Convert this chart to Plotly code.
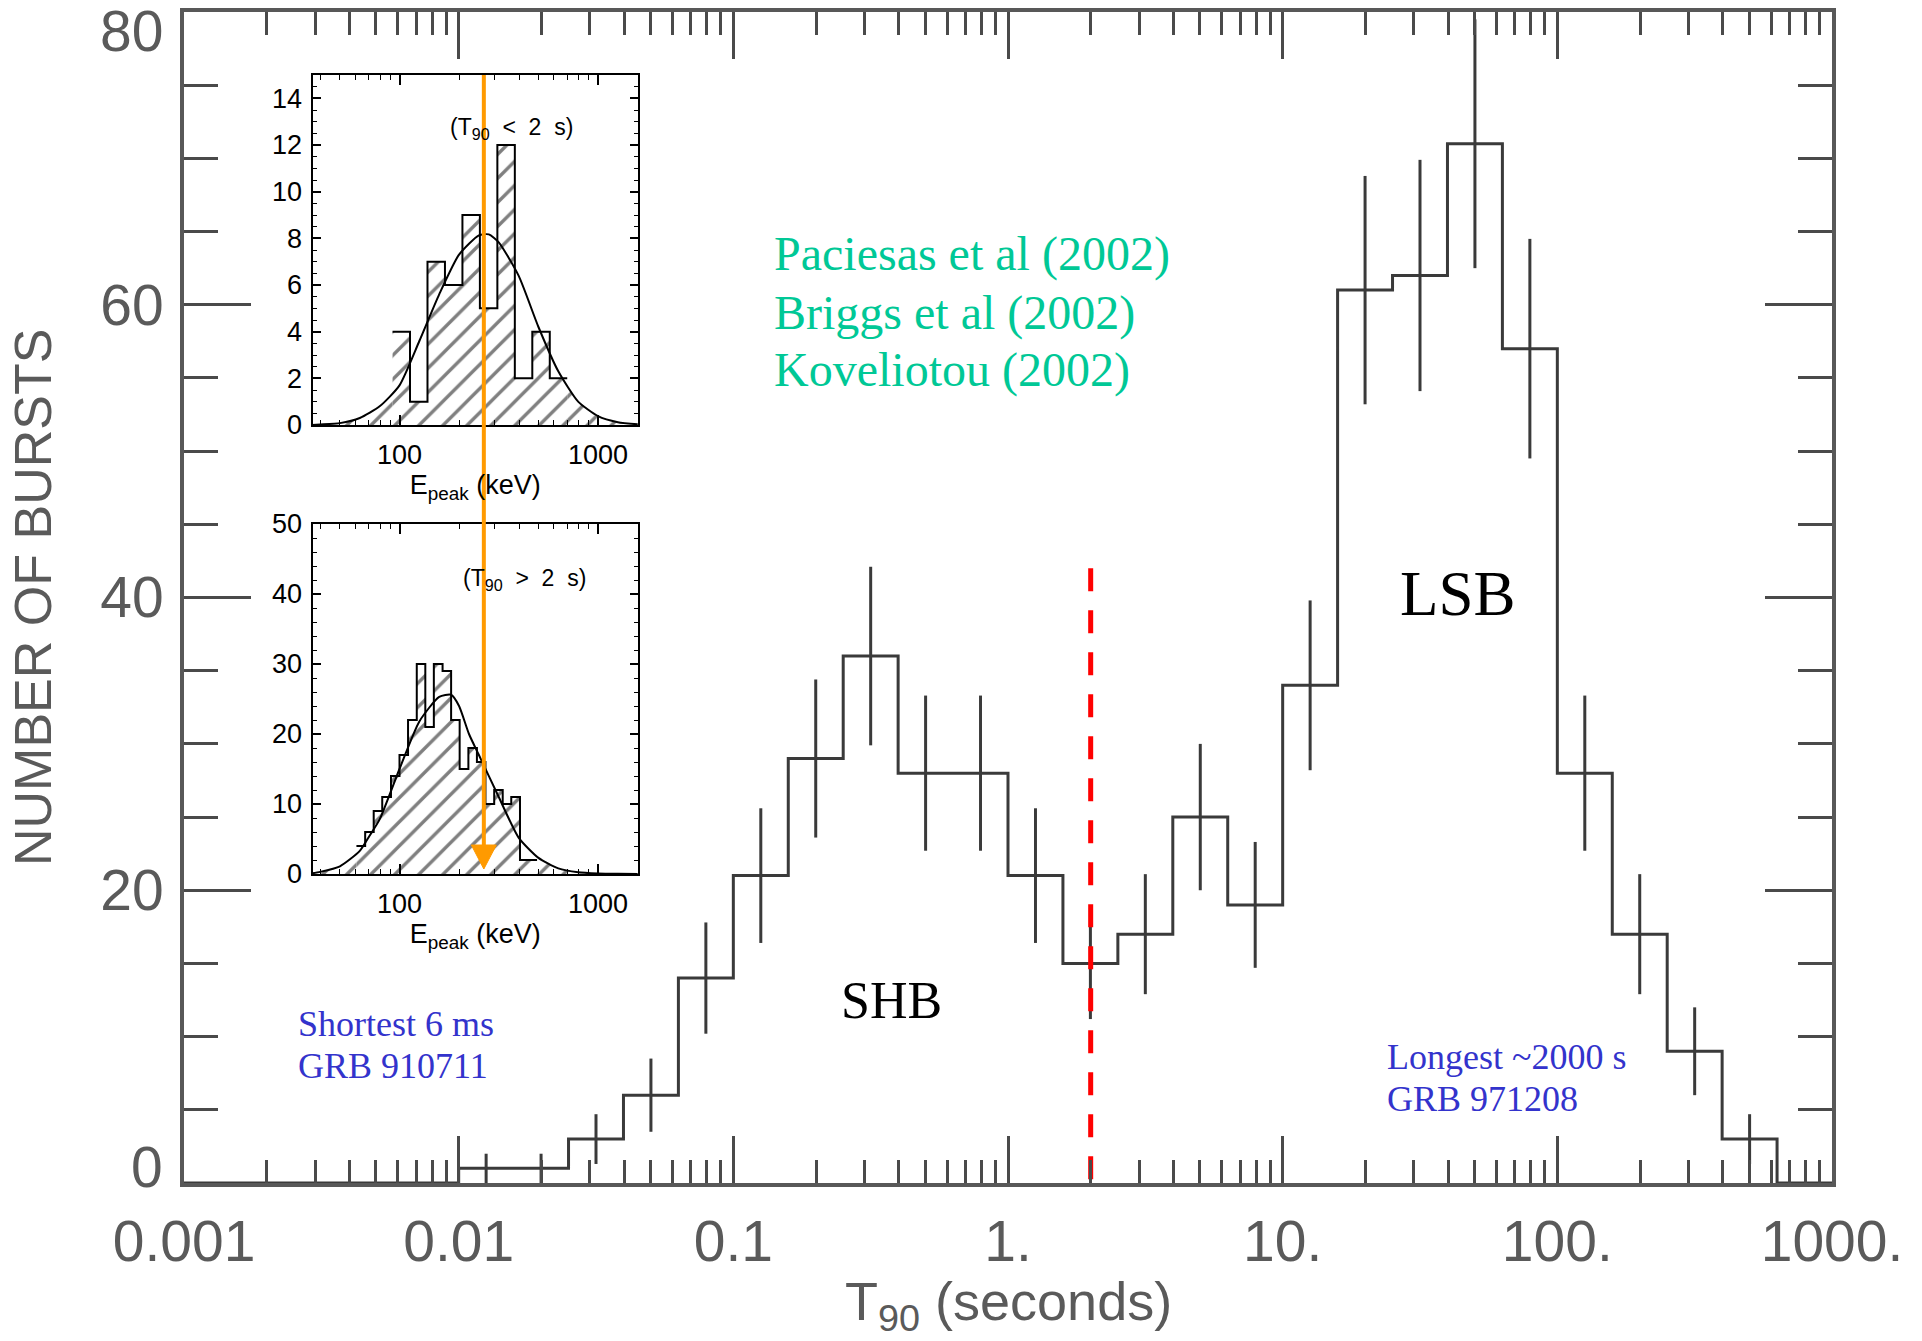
import numpy as np
import plotly.graph_objects as go

# ---------------- data ----------------
# main histogram: log10(T90) bin edges, counts and error bars
t90_log_edges = [-2.0, -1.8, -1.6, -1.4, -1.2, -1.0, -0.8, -0.6, -0.4, -0.2, 0.0,
                 0.2, 0.4, 0.6, 0.8, 1.0, 1.2, 1.4, 1.6, 1.8, 2.0, 2.2, 2.4, 2.6, 2.8]
burst_counts = [1, 1, 3, 6, 14, 21, 29, 36, 28, 28, 21, 15, 17, 25, 19, 34,
                61, 62, 71, 57, 28, 17, 9, 3]
burst_errors = [1.0, 1.0, 1.7, 2.5, 3.8, 4.6, 5.4, 6.1, 5.3, 5.3, 4.6, 3.8, 4.1, 5.0,
                4.3, 5.8, 7.8, 7.9, 8.5, 7.5, 5.3, 4.1, 3.0, 1.7]
split_t90 = 2.0          # seconds (red dashed line)
split_top = 42           # top of the red dashed line

x_tick_vals = [0.001, 0.01, 0.1, 1, 10, 100, 1000]
x_tick_text = ["0.001", "0.01", "0.1", "1.", "10.", "100.", "1000."]
y_tick_vals = [20, 40, 60]
y_tick_text = ["20", "40", "60"]
y_edge_vals = [0, 80]
y_edge_text = ["0", "80"]

# inset 1: Epeak histogram for T90 < 2 s
short_log_edges = [1.965, 2.053, 2.141, 2.229, 2.317, 2.405, 2.493, 2.581, 2.669, 2.757, 2.845]
short_counts = [4, 1, 7, 6, 9, 5, 12, 2, 4, 2]
short_fit_log = [1.56, 1.6, 1.7, 1.8, 1.9, 2.0, 2.1, 2.2, 2.3, 2.4, 2.45, 2.5, 2.6, 2.7, 2.8,
                 2.9, 3.0, 3.1, 3.2]
short_fit_val = [0.0, 0.02, 0.08, 0.3, 0.8, 1.7, 3.6, 5.6, 7.3, 8.13, 8.17, 7.83, 6.4, 4.2,
                 2.3, 1.0, 0.38, 0.12, 0.03]

# inset 2: Epeak histogram for T90 > 2 s
long_log_edges = [1.783, 1.827, 1.870, 1.913, 1.957, 2.000, 2.043, 2.087, 2.130, 2.173, 2.217,
                  2.260, 2.303, 2.347, 2.390, 2.433, 2.477, 2.520, 2.563, 2.607, 2.650, 2.693]
long_counts = [4, 6, 9, 11, 14, 17, 22, 30, 21, 30, 29, 22, 15, 18, 16, 10, 12, 10, 11, 2, 2]
long_fit_log = [1.56, 1.6, 1.7, 1.8, 1.85, 1.9, 2.0, 2.1, 2.2, 2.26, 2.3, 2.35, 2.4, 2.5, 2.6,
                2.7, 2.8, 2.9, 3.0, 3.1, 3.2]
long_fit_val = [0.1, 0.3, 1.1, 3.3, 5.5, 7.8, 15.0, 21.8, 25.3, 25.6, 24.0, 20.0, 17.0, 11.0,
                5.2, 2.3, 0.8, 0.25, 0.08, 0.02, 0.0]
arrow_epeak = 266        # keV, orange arrow

# ---------------- geometry helpers ----------------
W, H = 1922, 1341
def pxx(v):
    return v / W
def pyy(v):
    return 1 - v / H

main_xdom = [pxx(184), pxx(1832)]
main_ydom = [pyy(1183), pyy(12)]
in_xdom = [pxx(312.5), pxx(638)]
in1_ydom = [pyy(425), pyy(75)]
in2_ydom = [pyy(874), pyy(524)]
in_xrange = [1.5617, 3.2015]

AX_GRAY = "#585858"
TXT_GRAY = "#5a5a5a"
HIST_COL = "#3a3a3a"
SANS = "Liberation Sans"
SERIF = "Liberation Serif"

fig = go.Figure()

# ---------------- main histogram ----------------
edges = [10 ** e for e in t90_log_edges]
hx = [1e-3] + edges + [1e3]
hy = [0] + burst_counts + [0, 0]
fig.add_trace(go.Scatter(x=hx, y=hy, mode="lines",
                         line=dict(shape="hv", color=HIST_COL, width=3),
                         hoverinfo="skip", showlegend=False))
centers = [10 ** ((a + b) / 2) for a, b in zip(t90_log_edges[:-1], t90_log_edges[1:])]
fig.add_trace(go.Scatter(x=centers, y=burst_counts, mode="markers",
                         marker=dict(size=2, color=HIST_COL),
                         error_y=dict(type="data", array=burst_errors, width=0,
                                      thickness=3, color=HIST_COL),
                         showlegend=False))
fig.add_trace(go.Scatter(x=[split_t90, split_t90], y=[split_top, 0], mode="lines",
                         line=dict(color="#ff0000", width=5, dash="23px,19px"),
                         showlegend=False))

# ---------------- insets ----------------
PAT = dict(shape="/", size=17, solidity=0.2, fgcolor="black", bgcolor="white")

def add_inset(xa, ya, log_edges, counts, fit_log, fit_val):
    fl = np.array(fit_log)
    fv = np.array(fit_val)
    e0, e1 = log_edges[0], log_edges[-1]
    # tails of the fit beyond the histogram (hatched)
    lx = list(fl[fl < e0]) + [e0]
    ly = list(fv[fl < e0]) + [float(np.interp(e0, fl, fv))]
    rx = [e1] + list(fl[fl > e1])
    ry = [float(np.interp(e1, fl, fv))] + list(fv[fl > e1])
    for tx, ty in ((lx, ly), (rx, ry)):
        fig.add_trace(go.Scatter(x=[10 ** v for v in tx], y=ty, mode="lines",
                                 line=dict(width=0, color="black"), fill="tozeroy",
                                 fillcolor="white", fillpattern=PAT,
                                 xaxis=xa, yaxis=ya, showlegend=False, hoverinfo="skip"))
    fig.add_trace(go.Scatter(x=[10 ** v for v in log_edges], y=counts + [counts[-1]],
                             mode="lines", line=dict(shape="hv", color="black", width=2),
                             fill="tozeroy", fillcolor="white", fillpattern=PAT,
                             xaxis=xa, yaxis=ya, showlegend=False, hoverinfo="skip"))
    fig.add_trace(go.Scatter(x=[10 ** v for v in fit_log], y=fit_val, mode="lines",
                             line=dict(shape="spline", smoothing=0.6, color="black", width=2),
                             xaxis=xa, yaxis=ya, showlegend=False, hoverinfo="skip"))

add_inset("x2", "y2", short_log_edges, short_counts, short_fit_log, short_fit_val)
add_inset("x3", "y3", long_log_edges, long_counts, long_fit_log, long_fit_val)

# ---------------- axes ----------------
main_minor_x = [m * 10.0 ** d for d in range(-3, 3) for m in range(2, 10)]
main_minor_y = [v for v in range(5, 80, 5) if v % 20 != 0]
inset_minor_x = [m * 10.0 ** d for d in range(1, 4) for m in range(2, 10)]

MAIN_FONT = dict(family=SANS, size=57, color=TXT_GRAY)
common_main = dict(showline=True, linecolor=AX_GRAY, linewidth=4, mirror="allticks",
                   ticks="inside", tickwidth=3, tickcolor="#4a4a4a", showgrid=False,
                   zeroline=False, automargin=False, tickfont=MAIN_FONT)

fig.update_layout(
    xaxis=dict(type="log", range=[-3, 3], domain=main_xdom, anchor="y",
               tickvals=x_tick_vals, ticktext=x_tick_text, ticklen=47,
               ticklabelstandoff=6,
               minor=dict(ticks="inside", ticklen=23, tickwidth=3, tickcolor="#4a4a4a",
                          tickvals=main_minor_x, showgrid=False),
               **common_main),
    yaxis=dict(range=[0, 80], domain=main_ydom, anchor="x",
               tickvals=y_tick_vals, ticktext=y_tick_text, ticklen=67,
               ticklabelstandoff=5,
               minor=dict(ticks="inside", ticklen=34, tickwidth=3, tickcolor="#4a4a4a",
                          tickvals=main_minor_y, showgrid=False),
               **common_main),
)

INSET_FONT = dict(family=SANS, size=27, color="black")

def inset_axes(ydom, yrange, ytickvals, yminor, xa_name, ya_name, anchor_x, anchor_y):
    xa = dict(type="log", range=in_xrange, domain=in_xdom, anchor=anchor_y,
              showline=True, linecolor="black", linewidth=2, mirror="allticks",
              ticks="inside", ticklen=10, tickwidth=1.5, tickcolor="black",
              tickvals=[100, 1000], ticktext=["100", "1000"], tickfont=INSET_FONT,
              ticklabelstandoff=5, automargin=False,
              minor=dict(ticks="inside", ticklen=5, tickwidth=1.2, tickcolor="black",
                         tickvals=inset_minor_x, showgrid=False),
              showgrid=False, zeroline=False,
              title=dict(text="E<sub>peak</sub> (keV)", font=INSET_FONT, standoff=2))
    ya = dict(range=yrange, domain=ydom, anchor=anchor_x,
              showline=True, linecolor="black", linewidth=2, mirror="allticks",
              ticks="inside", ticklen=8, tickwidth=1.5, tickcolor="black",
              tickvals=ytickvals, tickfont=INSET_FONT, ticklabelstandoff=3, automargin=False,
              minor=dict(ticks="inside", ticklen=4, tickwidth=1.2, tickcolor="black",
                         dtick=yminor, showgrid=False),
              showgrid=False, zeroline=False)
    fig.update_layout({xa_name: xa, ya_name: ya})

inset_axes(in1_ydom, [0, 15], list(range(0, 15, 2)), 0.5, "xaxis2", "yaxis2", "x2", "y2")
inset_axes(in2_ydom, [0, 50], list(range(0, 51, 10)), 2, "xaxis3", "yaxis3", "x3", "y3")

# ---------------- annotations ----------------
ann = []

def note(text, x, y, font, xanchor="center", yanchor="middle", **kw):
    d = dict(x=pxx(x), y=pyy(y), xref="paper", yref="paper", text=text,
             xanchor=xanchor, yanchor=yanchor, showarrow=False, font=font)
    d.update(kw)
    ann.append(d)

for v, t, sh in zip(y_edge_vals, y_edge_text, [16, -19]):
    ann.append(dict(x=pxx(165), xref="paper", y=v, yref="y", yshift=sh, text=t,
                    xanchor="right", yanchor="middle", showarrow=False, font=MAIN_FONT))

note("T<sub>90</sub> (seconds)", 1008, 1341, dict(family=SANS, size=54, color=TXT_GRAY),
     yanchor="bottom")
note("NUMBER OF BURSTS", 33, 598, dict(family=SANS, size=52, color=TXT_GRAY), textangle=-90)

GREEN = dict(family=SERIF, size=48, color="#00c896")
for t, yy in zip(["Paciesas et al (2002)", "Briggs et al (2002)", "Koveliotou (2002)"],
                 [254, 313, 370]):
    note(t, 772, yy, GREEN, xanchor="left")

note("LSB", 1458, 594, dict(family=SERIF, size=63, color="black"))
note("SHB", 891, 1000, dict(family=SERIF, size=52, color="black"))

BLUE = dict(family=SERIF, size=36, color="#3333cc")
for t, xx, yy in [("Shortest 6 ms", 296, 1024), ("GRB 910711", 296, 1066),
                  ("Longest ~2000 s", 1385, 1057), ("GRB 971208", 1385, 1099)]:
    note(t, xx, yy, BLUE, xanchor="left")

note("(T<sub>90</sub>  <  2  s)", 511, 128, dict(family=SANS, size=23, color="black"))
note("(T<sub>90</sub>  >  2  s)", 524, 579, dict(family=SANS, size=23, color="black"))

# orange arrow located at arrow_epeak on the inset energy axis
ax_frac = (np.log10(arrow_epeak) - in_xrange[0]) / (in_xrange[1] - in_xrange[0])
ax_px = 312.5 + ax_frac * (638 - 312.5)
shapes = [
    dict(type="line", xref="paper", yref="paper", x0=pxx(ax_px), x1=pxx(ax_px),
         y0=pyy(75), y1=pyy(848), line=dict(color="#ff9a00", width=4), layer="above"),
    dict(type="path", xref="paper", yref="paper",
         path=f"M {pxx(ax_px - 12.5)} {pyy(845)} L {pxx(ax_px + 12.5)} {pyy(845)} "
              f"L {pxx(ax_px)} {pyy(869)} Z",
         fillcolor="#ff9a00", line=dict(color="#ff9a00", width=1), layer="above"),
]

fig.update_layout(width=W, height=H, margin=dict(l=0, r=0, t=0, b=0, autoexpand=False),
                  paper_bgcolor="white", plot_bgcolor="white", showlegend=False,
                  annotations=ann, shapes=shapes)

fig.write_html("out.html")
